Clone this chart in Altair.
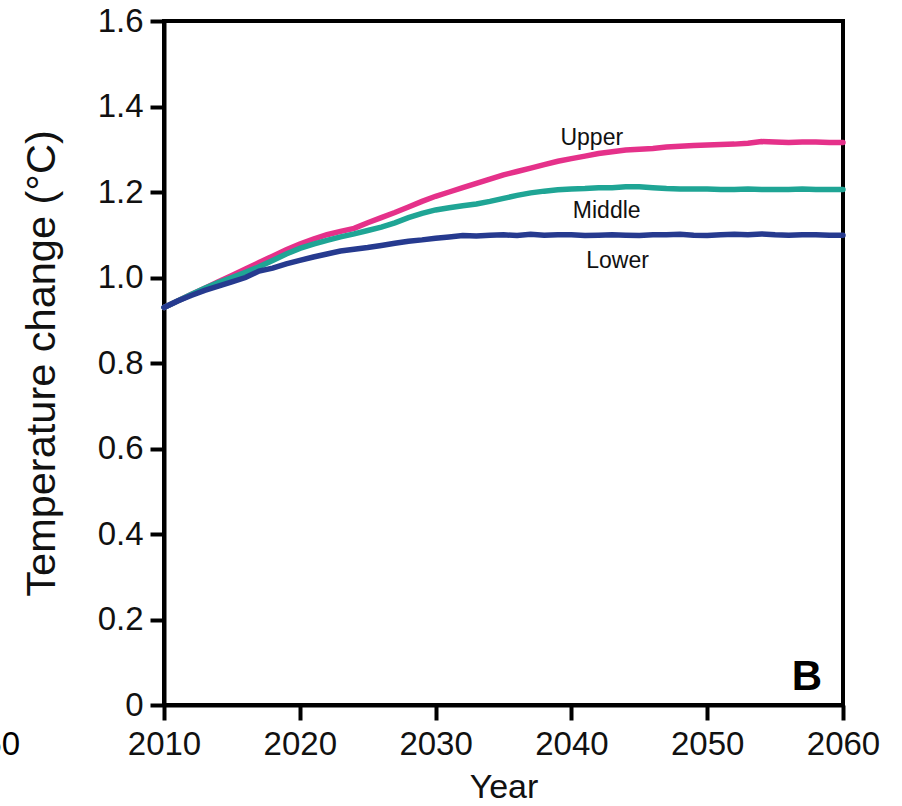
import altair as alt
import pandas as pd

# Projected temperature change for three scenarios, 2010-2060
years = list(range(2010, 2061))

upper = [0.930, 0.945, 0.960, 0.975, 0.990, 1.005, 1.020, 1.035, 1.050, 1.065,
         1.078, 1.090, 1.100, 1.108, 1.115, 1.128, 1.140, 1.152, 1.165, 1.178,
         1.190, 1.200, 1.210, 1.220, 1.230, 1.240, 1.248, 1.256, 1.264, 1.272,
         1.278, 1.284, 1.290, 1.294, 1.298, 1.300, 1.302, 1.305, 1.307, 1.309,
         1.310, 1.311, 1.312, 1.314, 1.318, 1.317, 1.316, 1.317, 1.317, 1.316,
         1.316]

middle = [0.930, 0.945, 0.960, 0.975, 0.988, 1.000, 1.012, 1.025, 1.040, 1.055,
          1.068, 1.078, 1.087, 1.095, 1.102, 1.110, 1.118, 1.128, 1.140, 1.150,
          1.158, 1.163, 1.168, 1.172, 1.178, 1.185, 1.192, 1.198, 1.202, 1.205,
          1.207, 1.208, 1.210, 1.210, 1.212, 1.212, 1.210, 1.208, 1.207, 1.207,
          1.207, 1.206, 1.206, 1.207, 1.206, 1.206, 1.206, 1.207, 1.206, 1.206,
          1.206]

lower = [0.930, 0.945, 0.958, 0.970, 0.980, 0.990, 1.000, 1.015, 1.022, 1.032,
         1.040, 1.048, 1.055, 1.062, 1.066, 1.070, 1.075, 1.080, 1.085, 1.088,
         1.092, 1.095, 1.098, 1.097, 1.099, 1.100, 1.098, 1.101, 1.099, 1.100,
         1.100, 1.098, 1.099, 1.100, 1.099, 1.098, 1.100, 1.100, 1.101, 1.099,
         1.098, 1.100, 1.101, 1.100, 1.102, 1.100, 1.099, 1.100, 1.100, 1.099,
         1.099]

series_names = ["Upper", "Middle", "Lower"]
series_colors = ["#E5318A", "#1FA595", "#263A8F"]

# Curve labels placed beside each line
label_text = ["Upper", "Middle", "Lower"]
label_year = [2041.5, 2042.6, 2043.4]
label_value = [1.310, 1.139, 1.022]

FONT = "Liberation Sans"

rows = []
for name, vals in zip(series_names, [upper, middle, lower]):
    for yr, v in zip(years, vals):
        rows.append({"Year": yr, "Change": v, "Scenario": name})
df = pd.DataFrame(rows)

labels_df = pd.DataFrame({"text": label_text, "Year": label_year, "Change": label_value})

x_scale = alt.Scale(domain=[2010, 2060], nice=False, zero=False)
y_scale = alt.Scale(domain=[0, 1.6], nice=False)

lines = alt.Chart(df).mark_line(strokeWidth=5.5, strokeCap="round").encode(
    x=alt.X("Year:Q", scale=x_scale,
            axis=alt.Axis(title="Year", values=[2010, 2020, 2030, 2040, 2050, 2060],
                          format="d", tickSize=15, labelPadding=8, titlePadding=9)),
    y=alt.Y("Change:Q", scale=y_scale,
            axis=alt.Axis(title="Temperature change (°C)",
                          values=[0, 0.2, 0.4, 0.6, 0.8, 1.0, 1.2, 1.4, 1.6],
                          labelExpr="datum.value == 0 ? '0' : format(datum.value, '.1f')",
                          tickSize=14, labelPadding=7, titlePadding=34,
                          titleFontSize=41.5)),
    color=alt.Color("Scenario:N", scale=alt.Scale(domain=series_names, range=series_colors),
                    legend=None),
    order=alt.Order("Scenario:N"),
)

curve_labels = alt.Chart(labels_df).mark_text(
    font=FONT, fontSize=23, color="#111111", baseline="alphabetic", align="center"
).encode(
    x=alt.X("Year:Q", scale=x_scale),
    y=alt.Y("Change:Q", scale=y_scale),
    text="text:N",
)

panel_letter = alt.Chart(pd.DataFrame({"t": ["B"]})).mark_text(
    font=FONT, fontSize=42, fontWeight="bold", color="black",
    align="center", baseline="alphabetic"
).encode(x=alt.value(643), y=alt.value(669), text="t:N")

# Last tick label of the neighbouring panel, mostly cut off at the left edge
neighbour = alt.Chart(pd.DataFrame({"t": ["2050"]})).mark_text(
    font=FONT, fontSize=33, color="black", align="right", baseline="alphabetic"
).encode(x=alt.value(-144), y=alt.value(734), text="t:N")

chart = alt.layer(lines, curve_labels, panel_letter, neighbour).properties(
    width=679,
    height=684,
    padding={"left": 164, "top": 21, "right": 59, "bottom": 101},
    autosize=alt.AutoSizeParams(type="none"),
    background="white",
).configure_view(
    stroke="black", strokeWidth=4
).configure_axis(
    domainColor="black", domainWidth=4, tickColor="black", tickWidth=4,
    grid=False, labelFont=FONT, titleFont=FONT, labelFontSize=33,
    titleFontSize=34, labelColor="#111111", titleColor="#111111",
    titleFontWeight="normal", labelFlush=False,
)

chart.save("out.html", embed_options={"renderer": "svg", "actions": False})
